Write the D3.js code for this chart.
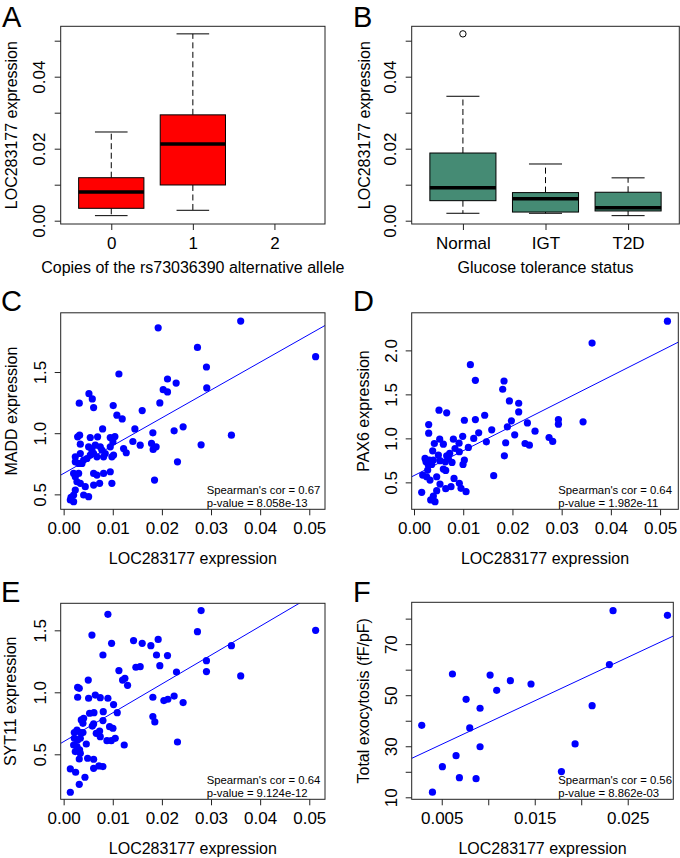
<!DOCTYPE html>
<html><head><meta charset="utf-8">
<script src="https://cdn.jsdelivr.net/npm/d3@7"></script>
<style>
body{margin:0;background:#fff}
svg text{font-family:"Liberation Sans",Arial,Helvetica,sans-serif;fill:#000}
</style></head><body>
<svg id="fig" width="680" height="858"></svg>
<script>
// ---------------- DATA ----------------
// Panel A: boxplot by allele copies  [lower whisker, Q1, median, Q3, upper whisker]
const alleleCats = ["0", "1", "2"];
const alleleStats = [
  [0.0014, 0.00344, 0.00797, 0.01194, 0.02464],
  [0.00289, 0.00992, 0.0213, 0.0294, 0.0519],
  null
];
const alleleOutliers = [[], [], []];

// Panel B: boxplot by glucose tolerance status
const glucoseCats = ["Normal", "IGT", "T2D"];
const glucoseStats = [
  [0.00206, 0.00556, 0.00917, 0.0188, 0.03456],
  [0.00206, 0.0024, 0.0061, 0.0078, 0.01575],
  [0.0014, 0.0027, 0.0036, 0.0079, 0.0119]
];
const glucoseOutliers = [[0.0519], [], []];
const boxTicks = [0, 0.01, 0.02, 0.03, 0.04, 0.05];
const boxTickLabels = [0, 0.02, 0.04];

// Panel C: LOC283177 vs MADD
const cLoc = [0.00325,0.00542,0.00691,0.00949,0.01003,0.0122,0.01274,0.00237,0.00339,0.00407,
  0.00508,0.00576,0.0061,0.00644,0.00745,0.00779,0.00813,0.00847,0.00949,0.00982,
  0.01016,0.00237,0.00305,0.00373,0.00474,0.00542,0.00678,0.00203,0.00237,0.00305,
  0.00271,0.00339,0.0061,0.00678,0.00813,0.00949,0.0044,0.0061,0.00732,0.00982,
  0.00237,0.00203,0.00136,0.00203,0.00407,0.00508,0.01924,0.03604,0.05129,0.02724,
  0.02907,0.02913,0.02114,0.0229,0.02026,0.02114,0.01125,0.01958,0.01599,0.01009,
  0.01084,0.01192,0.0145,0.02432,0.02249,0.03415,0.02798,0.02317,0.0185,0.01816,
  0.01789,0.01883,0.01822,0.01558,0.01409,0.01043,0.00793,0.00515,0.00583,0.0061,
  0.00318,0.00285,0.00339,0.0015];
const cMadd = [0.984,0.965,0.970,0.965,0.929,0.875,0.840,0.807,0.834,0.780,
  0.889,0.861,0.834,0.902,0.889,0.861,0.807,0.834,0.889,0.807,
  0.821,0.766,0.753,0.753,0.793,0.821,0.807,0.671,0.644,0.671,
  0.603,0.590,0.671,0.658,0.671,0.685,0.563,0.576,0.590,0.590,
  0.535,0.495,0.454,0.440,0.495,0.481,1.861,1.916,1.625,1.701,
  1.541,1.370,1.443,1.410,1.356,1.337,1.484,1.247,1.185,1.226,
  1.147,1.117,1.035,1.052,1.019,0.984,0.905,0.766,0.617,1.003,
  0.916,0.889,0.867,0.902,0.932,0.973,1.035,1.323,1.280,1.209,
  1.245,0.970,0.910,0.476];
const cFit = [0.671, 22.73];
const cText = ["Spearman's cor = 0.67", "p-value = 8.058e-13"];

// Panel D: LOC283177 vs PAX6
const dLoc = [0.05149,0.03618,0.01145,0.01247,0.01829,0.01802,0.01938,0.02127,0.02127,0.01978,
  0.01897,0.02304,0.02046,0.02459,0.02256,0.02344,0.02744,0.02818,0.02934,0.02934,
  0.03435,0.01863,0.01836,0.01619,0.01579,0.01436,0.01247,0.01314,0.0147,0.01213,
  0.01104,0.01023,0.00989,0.01023,0.00996,0.01057,0.00508,0.00664,0.00298,0.00298,
  0.00522,0.00413,0.00596,0.00379,0.008,0.00915,0.00833,0.00921,0.00725,0.00664,
  0.00772,0.00596,0.00644,0.00813,0.00921,0.00955,0.00752,0.00644,0.00528,0.00461,
  0.00393,0.00339,0.00427,0.00156,0.00176,0.00257,0.00325,0.00244,0.00312,0.00359,
  0.00528,0.00224,0.00278,0.00461,0.00393,0.00637,0.00698,0.00291,0.00495];
const dPax6 = [2.332,2.083,1.837,1.660,1.652,1.558,1.426,1.399,1.301,1.199,
  1.131,1.176,1.040,1.082,0.942,0.923,1.010,0.965,1.214,1.161,
  1.188,0.950,0.802,0.576,1.097,1.263,1.214,1.063,0.961,0.999,
  0.897,1.206,1.023,0.753,0.704,0.394,1.320,1.290,1.157,1.059,
  0.991,0.942,0.934,0.859,0.991,0.946,0.885,0.848,0.829,0.802,
  0.727,0.651,0.636,0.545,0.489,0.432,0.451,0.428,0.481,0.406,
  0.345,0.300,0.281,0.387,0.583,0.564,0.526,0.734,0.753,0.704,
  0.746,0.772,0.640,0.564,0.753,0.734,0.772,0.696,0.810];
const dFit = [0.577, 28.24];
const dText = ["Spearman's cor = 0.64", "p-value = 1.982e-11"];

// Panel E: LOC283177 vs SYT11
const eLoc = [0.00901,0.02798,0.05129,0.02724,0.00576,0.00976,0.01423,0.01599,0.01775,0.01924,
  0.0189,0.02114,0.01958,0.0147,0.01558,0.01125,0.02297,0.02907,0.02907,0.03415,
  0.03604,0.008,0.01199,0.01247,0.01301,0.00501,0.00318,0.00285,0.00285,0.00508,
  0.00644,0.00745,0.00901,0.01016,0.01816,0.0204,0.02121,0.02249,0.02432,0.01816,
  0.01856,0.02317,0.01091,0.00806,0.00617,0.00528,0.00407,0.00359,0.00393,0.0061,
  0.008,0.00583,0.00935,0.01003,0.00664,0.00732,0.00745,0.00881,0.00969,0.0105,
  0.01233,0.00461,0.00488,0.0061,0.00718,0.00799,0.0061,0.00217,0.00271,0.00339,
  0.00393,0.00217,0.00285,0.00339,0.00203,0.00271,0.00325,0.00237,0.00339,0.00318,
  0.00136,0.00244,0.00434,0.00318,0.00136];
const eSyt11 = [1.629,1.659,1.500,1.489,1.462,1.395,1.417,1.395,1.376,1.427,
  1.301,1.296,1.215,1.202,1.207,1.175,1.164,1.255,1.167,1.376,
  1.132,1.301,1.099,1.113,1.056,1.099,1.032,1.040,0.960,0.952,
  0.978,0.957,0.952,0.901,0.960,0.933,0.944,0.970,0.917,0.804,
  0.761,0.599,0.836,0.844,0.836,0.831,0.790,0.777,0.750,0.745,
  0.772,0.728,0.723,0.710,0.669,0.688,0.642,0.610,0.610,0.629,
  0.575,0.583,0.468,0.460,0.406,0.401,0.387,0.675,0.696,0.675,
  0.675,0.629,0.616,0.629,0.575,0.562,0.535,0.522,0.508,0.462,
  0.382,0.355,0.315,0.258,0.194];
const eFit = [0.602, 23.27];
const eText = ["Spearman's cor = 0.64", "p-value = 9.124e-12"];

// Panel F: LOC283177 vs total exocytosis
const fLoc = [0.02342,0.02927,0.02303,0.00615,0.0102,0.01238,0.01091,0.0146,0.00762,0.00912,
  0.02117,0.00285,0.00801,0.00912,0.01934,0.00654,0.00507,0.0069,0.00869,0.01787,0.004];
const fExo = [83.1,81.3,62.0,58.3,57.9,55.7,51.9,54.4,48.4,44.9,
  45.9,38.2,37.2,29.8,30.9,26.3,22.0,17.7,17.3,20.1,12.0];
const fFit = [22.25, 1703.5];
const fText = ["Spearman's cor = 0.56", "p-value = 8.862e-03"];

const cdeXTicks = [0, 0.01, 0.02, 0.03, 0.04, 0.05];
const fXTicks = [0.005, 0.01, 0.015, 0.02, 0.025];
const fXTickLabels = [0.005, 0.015, 0.025];
const fYTicks = [10, 20, 30, 40, 50, 60, 70, 80];
const fYTickLabels = [10, 30, 50, 70];

// ---------------- DRAWING ----------------
const svg = d3.select("#fig");
const TICK_FS = 17, TITLE_FS = 16, LETTER_FS = 29;
let clipId = 0;

function isIn(v, arr) { return arr.some(a => Math.abs(a - v) < 1e-9); }

function frame(box) {
  svg.append("rect").attr("x", box.x0).attr("y", box.y0)
    .attr("width", box.x1 - box.x0).attr("height", box.y1 - box.y0)
    .attr("fill", "none").attr("stroke", "#222").attr("stroke-width", 1);
}

function xAxis(box, x, ticks, fmt) {
  const g = svg.append("g").attr("transform", `translate(0,${box.y1})`)
    .call(d3.axisBottom(x).tickValues(ticks).tickSize(6).tickFormat(fmt));
  g.select(".domain").remove();
  g.selectAll("line").attr("stroke", "#222");
  g.selectAll("text").attr("y", 25).attr("dy", 0)
    .style("font-size", TICK_FS + "px").style("font-family", '"Liberation Sans",Arial,sans-serif');
}

function yAxis(box, y, ticks, fmt, off) {
  const g = svg.append("g").attr("transform", `translate(${box.x0},0)`)
    .call(d3.axisLeft(y).tickValues(ticks).tickSize(6).tickFormat(fmt));
  g.select(".domain").remove();
  g.selectAll("line").attr("stroke", "#222");
  g.selectAll("text").attr("x", 0).attr("y", 0).attr("dy", 0)
    .attr("text-anchor", "middle")
    .attr("transform", `translate(${-off},0) rotate(-90)`)
    .style("font-size", TICK_FS + "px").style("font-family", '"Liberation Sans",Arial,sans-serif');
}

function titles(box, letter, letterX, letterY, xTitle, xTitleY, yTitle, yTitleX) {
  svg.append("text").attr("x", letterX).attr("y", letterY).style("font-size", LETTER_FS + "px").text(letter);
  svg.append("text").attr("x", (box.x0 + box.x1) / 2).attr("y", xTitleY)
    .attr("text-anchor", "middle").style("font-size", TITLE_FS + "px").text(xTitle);
  svg.append("text").attr("text-anchor", "middle").style("font-size", TITLE_FS + "px")
    .attr("transform", `translate(${yTitleX},${(box.y0 + box.y1) / 2}) rotate(-90)`).text(yTitle);
}

function boxPanel(cfg) {
  const box = cfg.box;
  const x = d3.scaleLinear().domain([0.38, 3.62]).range([box.x0, box.x1]);
  const y = d3.scaleLinear().domain([-0.00092, 0.0540]).range([box.y1, box.y0]);
  const hw = x(1.4) - x(1);
  cfg.stats.forEach((s, i) => {
    if (!s) return;
    const cx = x(i + 1);
    const g = svg.append("g");
    [[s[3], s[4]], [s[1], s[0]]].forEach(([a, b]) => {
      g.append("line").attr("x1", cx).attr("x2", cx).attr("y1", y(a)).attr("y2", y(b))
        .attr("stroke", "#000").attr("stroke-dasharray", "6,3.5");
    });
    [s[0], s[4]].forEach(v => {
      g.append("line").attr("x1", cx - hw / 2).attr("x2", cx + hw / 2).attr("y1", y(v)).attr("y2", y(v))
        .attr("stroke", "#000");
    });
    g.append("rect").attr("x", cx - hw).attr("width", 2 * hw)
      .attr("y", y(s[3])).attr("height", y(s[1]) - y(s[3]))
      .attr("fill", cfg.color).attr("stroke", "#000").attr("stroke-width", 1);
    g.append("line").attr("x1", cx - hw).attr("x2", cx + hw).attr("y1", y(s[2])).attr("y2", y(s[2]))
      .attr("stroke", "#000").attr("stroke-width", 3.5);
    (cfg.outliers[i] || []).forEach(o => {
      g.append("circle").attr("cx", cx).attr("cy", y(o)).attr("r", 3.2)
        .attr("fill", "none").attr("stroke", "#000").attr("stroke-width", 1);
    });
  });
  frame(box);
  xAxis(box, x, [1, 2, 3], d => cfg.cats[d - 1]);
  yAxis(box, y, boxTicks, d => isIn(d, boxTickLabels) ? d3.format(".2f")(d) : "", 15.5);
  titles(box, cfg.letter, cfg.letterX, 26.8, cfg.xTitle, 273, "LOC283177 expression", cfg.yTitleX);
}

function scatterPanel(cfg) {
  const box = cfg.box;
  const x = d3.scaleLinear().domain(cfg.xDom).range([box.x0, box.x1]);
  const y = d3.scaleLinear().domain(cfg.yDom).range([box.y1, box.y0]);
  const id = "clip" + (clipId++);
  svg.append("clipPath").attr("id", id).append("rect")
    .attr("x", box.x0).attr("y", box.y0).attr("width", box.x1 - box.x0).attr("height", box.y1 - box.y0);
  const g = svg.append("g");
  g.selectAll("circle").data(cfg.xs.map((v, i) => [v, cfg.ys[i]])).enter().append("circle")
    .attr("cx", d => x(d[0])).attr("cy", d => y(d[1])).attr("r", 3.6).attr("fill", "#0000FF");
  const [b0, b1] = cfg.fit;
  svg.append("line").attr("clip-path", `url(#${id})`)
    .attr("x1", x(cfg.xDom[0])).attr("y1", y(b0 + b1 * cfg.xDom[0]))
    .attr("x2", x(cfg.xDom[1])).attr("y2", y(b0 + b1 * cfg.xDom[1]))
    .attr("stroke", "#0000FF").attr("stroke-width", 1);
  frame(box);
  xAxis(box, x, cfg.xTicks, cfg.xFmt);
  yAxis(box, y, cfg.yTicks, cfg.yFmt, 14.5);
  svg.append("text").attr("x", box.x1 - cfg.textOff).attr("y", box.y1 - 15.3)
    .style("font-size", "11.3px").text(cfg.text[0]);
  svg.append("text").attr("x", box.x1 - cfg.textOff).attr("y", box.y1 - 2.6)
    .style("font-size", "11.3px").text(cfg.text[1]);
  titles(box, cfg.letter, cfg.letterX, cfg.letterY, "LOC283177 expression", cfg.xTitleY, cfg.yTitle, cfg.yTitleX);
}

const f2 = d3.format(".2f"), f1 = d3.format(".1f"), f3 = d3.format(".3f");

boxPanel({box: {x0: 60.7, x1: 325, y0: 26.3, y1: 224}, stats: alleleStats, outliers: alleleOutliers,
  cats: alleleCats, color: "#FF0000", letter: "A", letterX: 2,
  xTitle: "Copies of the rs73036390 alternative allele", yTitleX: 16.5});
boxPanel({box: {x0: 411.7, x1: 679.3, y0: 26.3, y1: 224}, stats: glucoseStats, outliers: glucoseOutliers,
  cats: glucoseCats, color: "#458B74", letter: "B", letterX: 353,
  xTitle: "Glucose tolerance status", yTitleX: 369.5});

scatterPanel({box: {x0: 60.7, x1: 325, y0: 312.8, y1: 509.3}, xDom: [-0.0006, 0.0532], yDom: [0.378, 1.984],
  xs: cLoc, ys: cMadd, fit: cFit, text: cText, textOff: 118.3,
  xTicks: cdeXTicks, xFmt: f2, yTicks: [0.5, 1.0, 1.5], yFmt: f1,
  letter: "C", letterX: 1, letterY: 310.5, xTitleY: 563.5, yTitle: "MADD expression", yTitleX: 16.5});
scatterPanel({box: {x0: 411.7, x1: 678.3, y0: 312.8, y1: 509.3}, xDom: [-0.00047, 0.0537], yDom: [0.194, 2.427],
  xs: dLoc, ys: dPax6, fit: dFit, text: dText, textOff: 120,
  xTicks: cdeXTicks, xFmt: f2, yTicks: [0.5, 1.0, 1.5, 2.0], yFmt: f1,
  letter: "D", letterX: 353, letterY: 310.5, xTitleY: 563.5, yTitle: "PAX6 expression", yTitleX: 368.5});
scatterPanel({box: {x0: 60.7, x1: 325, y0: 603.3, y1: 799.3}, xDom: [-0.0006, 0.0532], yDom: [0.137, 1.718],
  xs: eLoc, ys: eSyt11, fit: eFit, text: eText, textOff: 118.3,
  xTicks: cdeXTicks, xFmt: f2, yTicks: [0.5, 1.0, 1.5], yFmt: f1,
  letter: "E", letterX: 1, letterY: 601.5, xTitleY: 853.5, yTitle: "SYT11 expression", yTitleX: 15.5});
scatterPanel({box: {x0: 411.7, x1: 673.3, y0: 602.3, y1: 799.3}, xDom: [0.00177, 0.0299], yDom: [9.22, 86.4],
  xs: fLoc, ys: fExo, fit: fFit, text: fText, textOff: 115,
  xTicks: fXTicks, xFmt: d => isIn(d, fXTickLabels) ? f3(d) : "",
  yTicks: fYTicks, yFmt: d => isIn(d, fYTickLabels) ? String(d) : "",
  letter: "F", letterX: 353, letterY: 601.5, xTitleY: 853.5, yTitle: "Total exocytosis (fF/pF)", yTitleX: 368.5});
</script>
</body></html>
